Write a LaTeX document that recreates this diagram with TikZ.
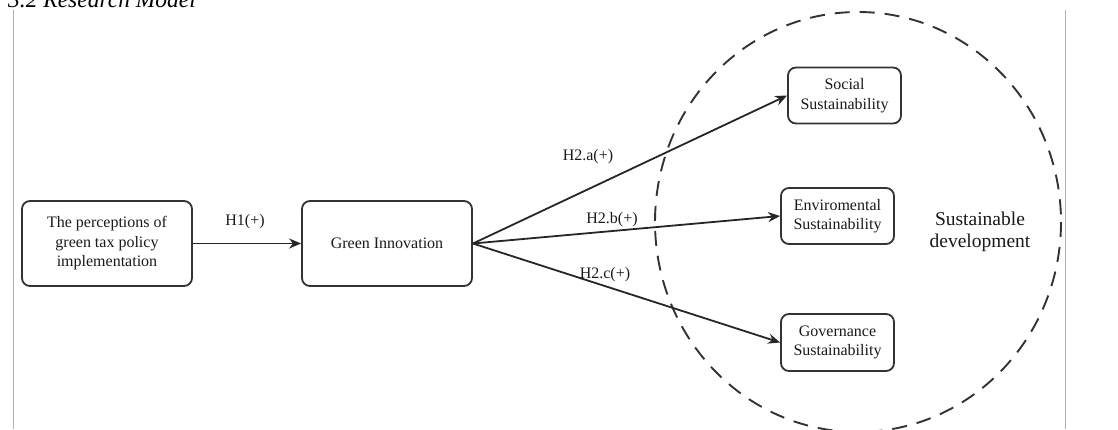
\documentclass[tikz,border=0pt]{standalone}
\usepackage{fontspec}
\setmainfont{Liberation Serif}
\usepackage{tikz}
\usetikzlibrary{arrows.meta}

\begin{document}
\begin{tikzpicture}[x=1pt,y=-1pt,
    modelbox/.style={draw=black!80,line width=1.8pt,rounded corners=8pt,align=center,
      font=\fontsize{16}{19.5}\selectfont,text=black!90,inner sep=0pt},
    hyplabel/.style={font=\fontsize{16}{19}\selectfont,text=black!90,inner sep=0pt},
    hyparrow/.style={draw=black!85,line width=1.8pt,-{Stealth[length=12pt,width=10pt]}}]
        \useasboundingbox (0,0) rectangle (1118,429);
        % page frame and heading
        \draw[black!30,line width=1pt] (13,10) -- (13,429);
        \draw[black!30,line width=1pt] (1065,10) -- (1065,429);
        \node[anchor=base west,inner sep=0pt,font=\fontsize{23.5}{28}\itshape] (heading) at (8,7) {3.2 Research Model};
        % dashed circle
        \draw[black!80,line width=1.9pt,dash pattern=on 15pt off 10pt] (858,222) ellipse (203 and 210);
        \node[align=center,font=\fontsize{19.5}{21.5}\selectfont,text=black!90] (sustdev) at (980,232) {Sustainable\\development};
        % boxes
        \node[modelbox,minimum width=170pt,minimum height=85pt] (percept) at (107,243.5) {The perceptions of\\green tax policy\\implementation};
        \node[modelbox,minimum width=170pt,minimum height=85pt] (greeninno) at (387,243.5) {Green Innovation};
        \node[modelbox,minimum width=113pt,minimum height=56pt] (social) at (844.5,95.5) {Social\\Sustainability};
        \node[modelbox,minimum width=113pt,minimum height=56pt] (enviro) at (837.5,216) {Enviromental\\Sustainability};
        \node[modelbox,minimum width=113pt,minimum height=57pt] (govern) at (837.5,342.5) {Governance\\Sustainability};
        % hypotheses
        \draw[hyparrow] (percept) -- (greeninno);
        \draw[hyparrow] (greeninno.east) -- (social.west);
        \draw[hyparrow] (greeninno.east) -- (enviro.west);
        \draw[hyparrow] (greeninno.east) -- (govern.west);
        \node[hyplabel] (h1) at (245,222) {H1(+)};
        \node[hyplabel] (h2a) at (588,157) {H2.a(+)};
        \node[hyplabel] (h2b) at (612,220) {H2.b(+)};
        \node[hyplabel] (h2c) at (605,275) {H2.c(+)};
      \end{tikzpicture}
\end{document}
